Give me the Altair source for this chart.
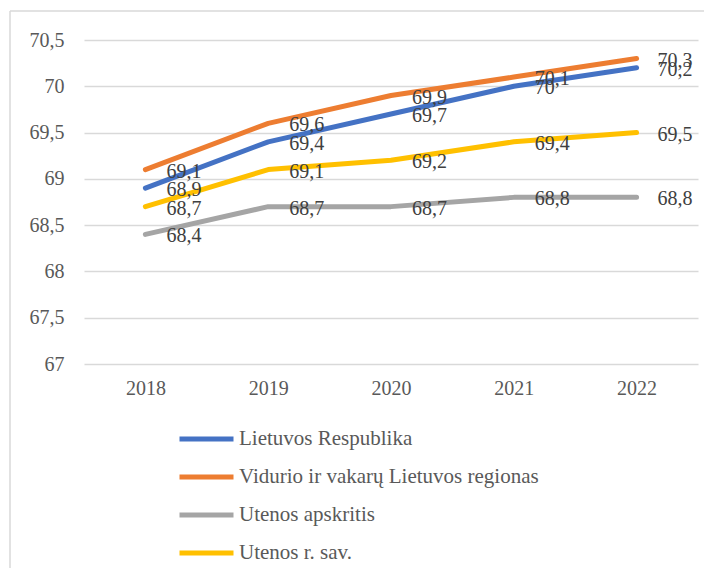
import altair as alt
import pandas as pd

years = ["2018", "2019", "2020", "2021", "2022"]
series_names = [
    "Lietuvos Respublika",
    "Vidurio ir vakarų Lietuvos regionas",
    "Utenos apskritis",
    "Utenos r. sav.",
]
lietuvos = [68.9, 69.4, 69.7, 70.0, 70.2]
vidurio = [69.1, 69.6, 69.9, 70.1, 70.3]
utenos_aps = [68.4, 68.7, 68.7, 68.8, 68.8]
utenos_sav = [68.7, 69.1, 69.2, 69.4, 69.5]
colors = ["#4472C4", "#ED7D31", "#A5A5A5", "#FFC000"]
y_ticks = [67, 67.5, 68, 68.5, 69, 69.5, 70, 70.5]

rows = []
for name, vals in zip(series_names, [lietuvos, vidurio, utenos_aps, utenos_sav]):
    for yr, v in zip(years, vals):
        rows.append({"year": yr, "series": name, "value": v, "order": series_names.index(name)})
df = pd.DataFrame(rows)

FONT = "Liberation Serif"
PAD_L, PAD_T, PAD_R, PAD_B = 76, 32, 6, 204
W, H = 614, 324

x_enc = alt.X(
    "year:O",
    sort=years,
    scale=alt.Scale(type="point", padding=0.5),
    axis=alt.Axis(
        title=None, labelAngle=0, ticks=False, domain=False, grid=False,
        labelFontSize=20, labelFont=FONT, labelColor="#595959", labelPadding=14,
    ),
)
y_enc = alt.Y(
    "value:Q",
    scale=alt.Scale(domain=[67, 70.5], nice=False, zero=False),
    axis=alt.Axis(
        title=None, values=y_ticks, ticks=False, domain=False, grid=True,
        gridColor="#d9d9d9", gridWidth=1.5,
        labelExpr="replace(toString(datum.value), '.', ',')",
        labelFontSize=20, labelFont=FONT, labelColor="#595959", labelPadding=20,
    ),
)
color_enc = alt.Color(
    "series:N",
    sort=series_names,
    scale=alt.Scale(domain=series_names, range=colors),
    legend=alt.Legend(
        title=None, orient="none", legendX=93, legendY=380, direction="vertical",
        symbolType="stroke", symbolSize=2916, symbolStrokeWidth=5,
        labelFontSize=21, labelFont=FONT, labelColor="#595959",
        labelOffset=3, rowPadding=0, clipHeight=38, padding=0, labelLimit=500,
    ),
)

base = alt.Chart(df)

lines = base.mark_line(strokeWidth=5, strokeCap="round", strokeJoin="round").encode(
    x=x_enc, y=y_enc, color=color_enc, detail="series:N", order="order:Q"
)

labels = base.transform_calculate(
    label="replace(toString(datum.value), '.', ',')"
).mark_text(
    align="left", baseline="middle", dx=21, dy=2, fontSize=20, font=FONT, color="#404040"
).encode(x=alt.X("year:O", sort=years), y="value:Q", text="label:N")

frame = alt.Data(values=[{}])
border_left = alt.Chart(frame).mark_rule(stroke="#d9d9d9", strokeWidth=1.5).encode(
    x=alt.value(-74), y=alt.value(-29), y2=alt.value(H + PAD_B)
)
border_top = alt.Chart(frame).mark_rule(stroke="#d9d9d9", strokeWidth=1.5).encode(
    x=alt.value(-74), x2=alt.value(W + PAD_R), y=alt.value(-29)
)

chart = (
    alt.layer(border_left, border_top, lines, labels)
    .properties(
        width=W,
        height=H,
        autosize=alt.AutoSizeParams(type="none"),
        padding={"left": PAD_L, "top": PAD_T, "right": PAD_R, "bottom": PAD_B},
    )
    .configure(background="white", font=FONT)
    .configure_view(strokeWidth=0)
)

chart.save("out.html", embed_options={"renderer": "svg", "actions": False})
